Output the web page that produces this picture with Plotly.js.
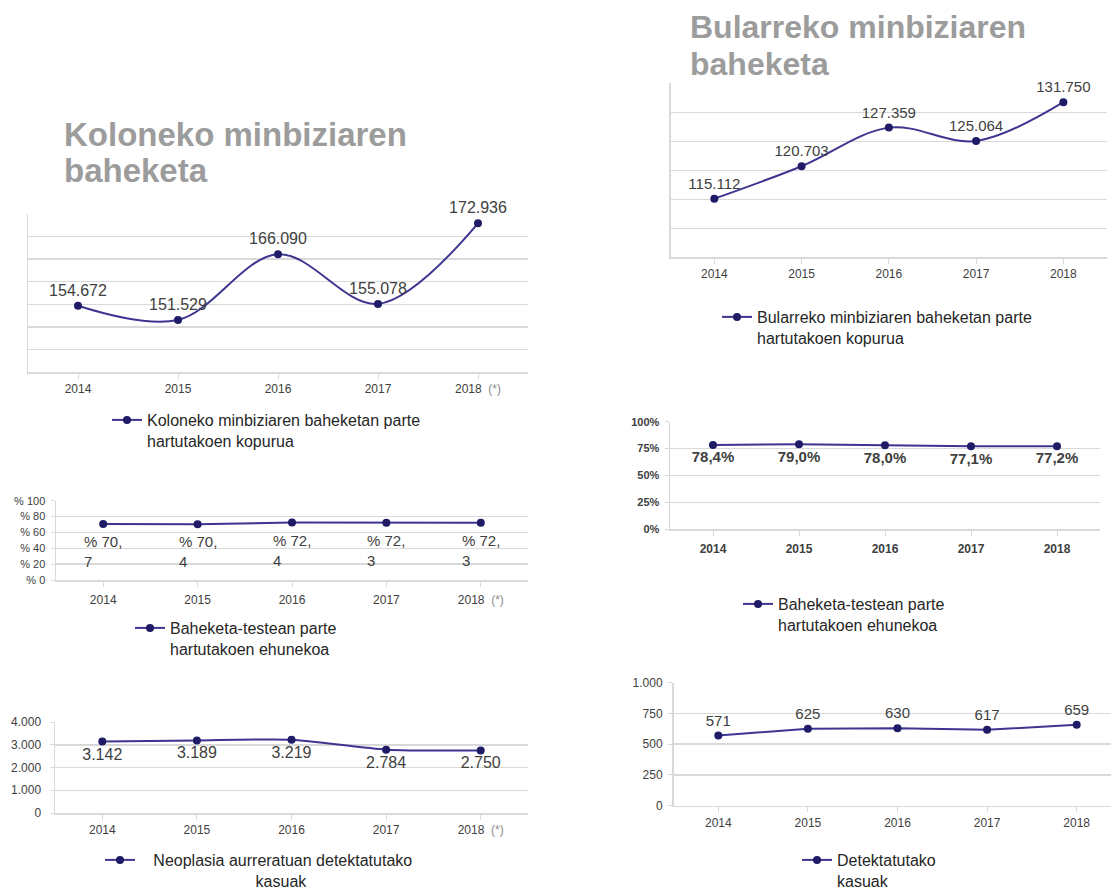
<!DOCTYPE html>
<html><head><meta charset="utf-8">
<script src="https://cdn.plot.ly/plotly-3.0.1.min.js"></script>
<style>html,body{margin:0;padding:0;background:#fff}</style>
</head><body>
<div id="chart" style="width:1111px;height:890px"></div>
<script>
// ---------- DATA ----------
const years = ['2014', '2015', '2016', '2017', '2018'];
const yearLabelsLeft = ['2014', '2015', '2016', '2017', "2018  <span style='color:#8c8c8c'>(*)</span>"];
const yearLabelsRight = ['2014', '2015', '2016', '2017', '2018'];

const colonParticipants = [154672, 151529, 166090, 155078, 172936];
const colonParticipationPct = [70.7, 70.4, 72.4, 72.3, 72.3];
const colonAdvancedNeoplasia = [3142, 3189, 3219, 2784, 2750];

const breastParticipants = [115112, 120703, 127359, 125064, 131750];
const breastParticipationPct = [78.4, 79.0, 78.0, 77.1, 77.2];
const breastDetectedCases = [571, 625, 630, 617, 659];

const titleColonLines = ['Koloneko minbiziaren', 'baheketa'];
const titleBreastLines = ['Bularreko minbiziaren', 'baheketa'];

const nameColonParticipants = 'Koloneko minbiziaren baheketan parte<br>hartutakoen kopurua';
const nameColonPct = 'Baheketa-testean parte<br>hartutakoen ehunekoa';
const nameColonNeoplasia = '\u00a0\u00a0\u00a0Neoplasia aurreratuan detektatutako<br>' + '\u00a0'.repeat(26) + 'kasuak';
const nameBreastParticipants = 'Bularreko minbiziaren baheketan parte<br>hartutakoen kopurua';
const nameBreastPct = 'Baheketa-testean parte<br>hartutakoen ehunekoa';
const nameBreastCases = 'Detektatutako<br>kasuak';

// ---------- LAYOUT HELPERS ----------
const W = 1111, H = 890;
const px = v => v / W;
const py = v => 1 - v / H;
const FONT = 'Liberation Sans, Arial, sans-serif';
const GRID = '#d9d9d9';
const LINE = '#3d3590';
const MARK = '#1f1b66';
const LBL = '#404040';

function xAxis(domain, ticktext, anchor, extra) {
  return Object.assign({
    domain: domain, anchor: anchor, type: 'category',
    categoryorder: 'array', categoryarray: years,
    tickmode: 'array', tickvals: years, ticktext: ticktext,
    range: [-0.5, 4.5],
    showgrid: false, zeroline: false,
    showline: true, linecolor: GRID, linewidth: 1.5,
    ticks: 'outside', ticklen: 5, tickcolor: GRID, tickwidth: 1,
    tickfont: {family: FONT, size: 12, color: LBL},
    fixedrange: true
  }, extra || {});
}
function yAxis(domain, anchor, extra) {
  return Object.assign({
    domain: domain, anchor: anchor,
    showgrid: true, gridcolor: GRID, gridwidth: 1.5,
    zeroline: false,
    showline: true, linecolor: GRID, linewidth: 1.5,
    ticks: 'outside', ticklen: 4, tickcolor: GRID,
    tickfont: {family: FONT, size: 12, color: LBL},
    ticklabelstandoff: 3,
    fixedrange: true
  }, extra || {});
}

function lineTrace(y, xa, ya, name, legend, opts) {
  return Object.assign({
    type: 'scatter', x: years, y: y, xaxis: xa, yaxis: ya,
    name: name, legend: legend, showlegend: true,
    mode: 'lines+markers',
    line: {color: LINE, width: 2},
    marker: {color: MARK, size: 8},
    cliponaxis: false,
    hoverinfo: 'skip'
  }, opts || {});
}

const traces = [
  lineTrace(colonParticipants, 'x', 'y', nameColonParticipants, 'legend', {
    mode: 'lines+markers+text', line: {color: LINE, width: 2, shape: 'spline', smoothing: 1},
    texttemplate: '%{y:,}', textposition: 'top center',
    textfont: {family: FONT, size: 16, color: LBL}
  }),
  lineTrace(colonParticipationPct, 'x2', 'y2', nameColonPct, 'legend2'),
  lineTrace(colonAdvancedNeoplasia, 'x3', 'y3', nameColonNeoplasia, 'legend3', {
    mode: 'lines+markers+text', line: {color: LINE, width: 2, shape: 'spline', smoothing: 0.6},
    texttemplate: '%{y:,}', textposition: 'bottom center',
    textfont: {family: FONT, size: 16, color: LBL}
  }),
  lineTrace(breastParticipants, 'x4', 'y4', nameBreastParticipants, 'legend4', {
    mode: 'lines+markers+text', line: {color: LINE, width: 2, shape: 'spline', smoothing: 1},
    texttemplate: '%{y:,}', textposition: 'top center',
    textfont: {family: FONT, size: 15, color: LBL}
  }),
  lineTrace(breastParticipationPct, 'x5', 'y5', nameBreastPct, 'legend5', {
    mode: 'lines+markers+text',
    texttemplate: '%{y:.1f}%', textposition: 'bottom center',
    textfont: {family: FONT, size: 15, color: LBL, weight: 'bold'}
  }),
  lineTrace(breastDetectedCases, 'x6', 'y6', nameBreastCases, 'legend6', {
    mode: 'lines+markers+text',
    texttemplate: '%{y:,}', textposition: 'top center',
    textfont: {family: FONT, size: 15, color: LBL}
  })
];

// Labels for the percentage panel (left) - wrapped like the original
const pctAnnotations = colonParticipationPct.map((v, i) => ({
  x: i, y: v, xref: 'x2', yref: 'y2',
  text: '% ' + v.toFixed(1).replace('.', ',<br>'),
  showarrow: false, xanchor: 'center', yanchor: 'top', align: 'left',
  yshift: -7, font: {family: FONT, size: 15, color: LBL}
}));

function titleAnn(text, x, yc, size) {
  return {
    text: '<b>' + text + '</b>', xref: 'paper', yref: 'paper',
    x: px(x), y: py(yc), xanchor: 'left', yanchor: 'middle',
    showarrow: false, font: {family: FONT, size: size, color: '#9c9c9c'}
  };
}

function legendAt(x, ytop) {
  return {
    x: px(x), y: py(ytop), xanchor: 'left', yanchor: 'top',
    bgcolor: 'rgba(0,0,0,0)', borderwidth: 0,
    font: {family: FONT, size: 16, color: '#262626'},
    valign: 'top', itemwidth: 30
  };
}

const layout = {
  width: W, height: H,
  margin: {l: 0, r: 0, t: 0, b: 0, autoexpand: false},
  paper_bgcolor: '#ffffff', plot_bgcolor: 'rgba(0,0,0,0)',
  separators: ',.',
  font: {family: FONT, color: LBL},
  showlegend: true,
  // Panel 1: colon participants
  xaxis: xAxis([px(28), px(528)], yearLabelsLeft, 'y'),
  yaxis: yAxis([py(372), py(214)], 'x', {range: [140000, 175000], tick0: 140000, dtick: 5000, showticklabels: false, ticks: ''}),
  // Panel 2: colon participation %
  xaxis2: xAxis([px(56), px(528)], yearLabelsLeft, 'y2', {ticklabelstandoff: 3}),
  yaxis2: yAxis([py(580), py(500.7)], 'x2', {range: [0, 100], tick0: 0, dtick: 20, tickprefix: '% ', tickfont: {family: FONT, size: 11, color: LBL}}),
  // Panel 3: advanced neoplasia
  xaxis3: xAxis([px(55), px(528)], yearLabelsLeft, 'y3'),
  yaxis3: yAxis([py(813), py(722)], 'x3', {range: [0, 4000], tick0: 0, dtick: 1000, tickformat: ',', ticklabelstandoff: 6}),
  // Panel 4: breast participants
  xaxis4: xAxis([px(670.7), px(1107)], yearLabelsRight, 'y4'),
  yaxis4: yAxis([py(257.3), py(83.3)], 'x4', {range: [105000, 135000], tick0: 105000, dtick: 5000, showticklabels: false, ticks: ''}),
  // Panel 5: breast participation %
  xaxis5: xAxis([px(670), px(1100)], yearLabelsRight, 'y5', {tickfont: {family: FONT, size: 12, color: LBL, weight: 'bold'}, ticklabelstandoff: 3}),
  yaxis5: yAxis([py(529.3), py(421.7)], 'x5', {range: [0, 100], tick0: 0, dtick: 25, ticksuffix: '%', tickfont: {family: FONT, size: 11, color: LBL, weight: 'bold'}}),
  // Panel 6: detected cases
  xaxis6: xAxis([px(673.5), 1], yearLabelsRight, 'y6', {range: [-0.5, 4.383]}),
  yaxis6: yAxis([py(805.7), py(682.7)], 'x6', {range: [0, 1000], tick0: 0, dtick: 250, tickformat: ','}),

  legend: legendAt(107, 403),
  legend2: legendAt(130, 611),
  legend3: legendAt(100, 843),
  legend4: legendAt(717, 300),
  legend5: legendAt(738, 587),
  legend6: legendAt(797, 843),

  annotations: [
    titleAnn(titleColonLines[0], 62, 134, 33),
    titleAnn(titleColonLines[1], 62, 171, 33),
    titleAnn(titleBreastLines[0], 688, 27, 32),
    titleAnn(titleBreastLines[1], 688, 64, 32)
  ].concat(pctAnnotations)
};

Plotly.newPlot('chart', traces, layout, {displayModeBar: false, staticPlot: true});
</script>
</body></html>
